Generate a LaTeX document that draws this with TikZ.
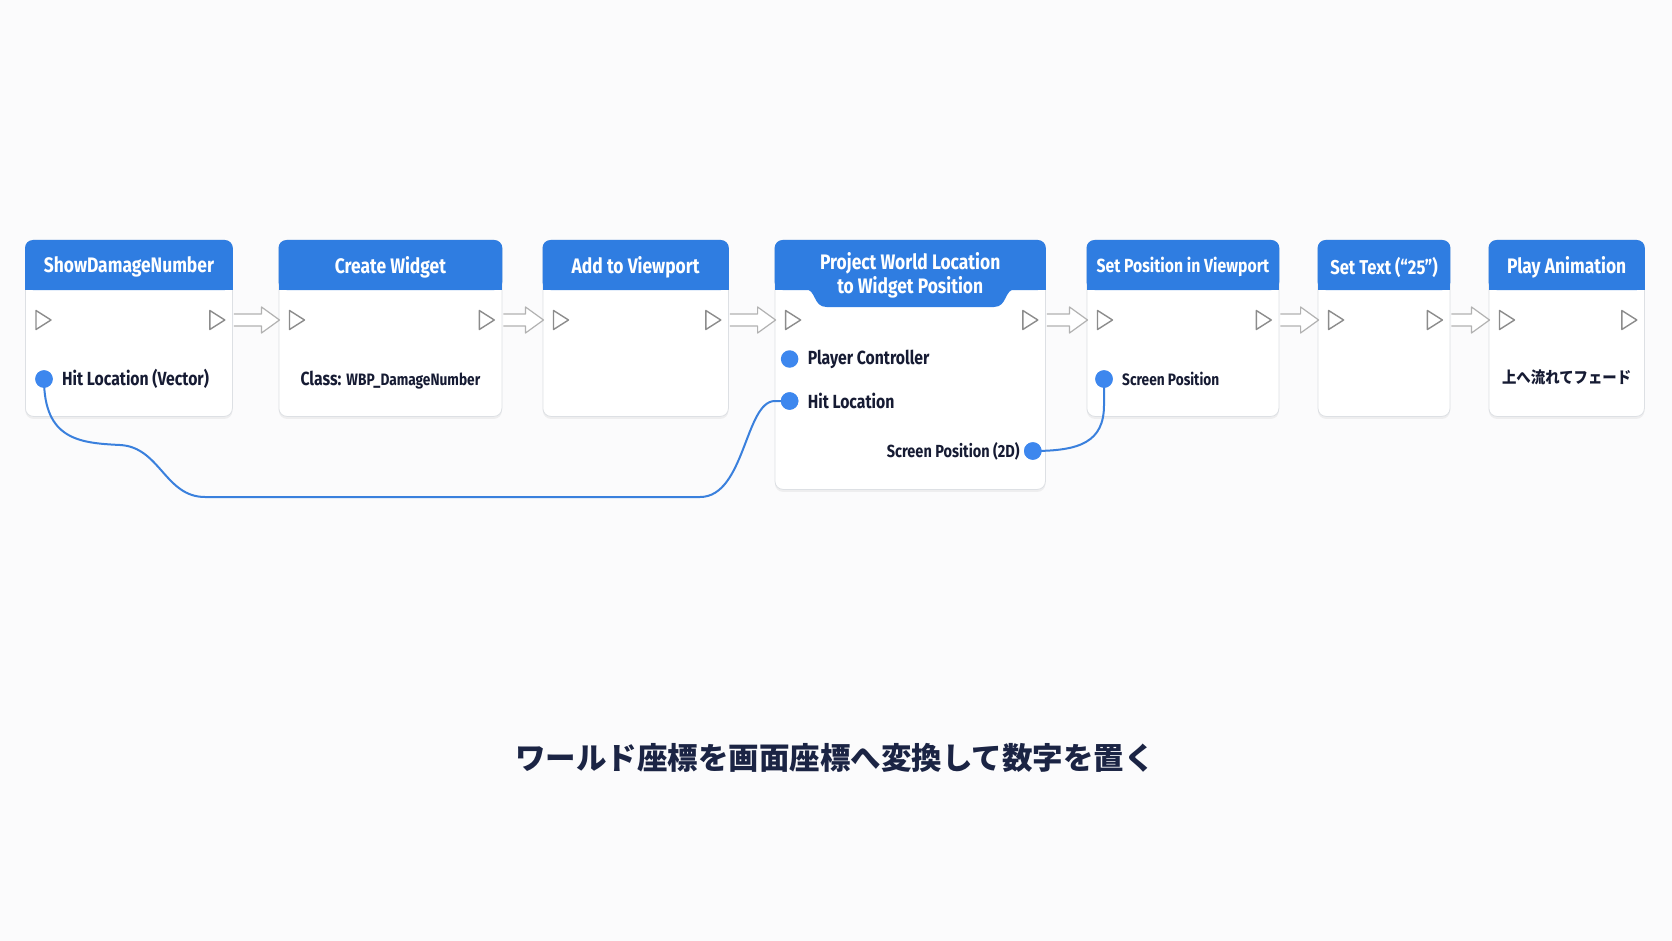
\documentclass[tikz,border=0pt]{standalone}
\usepackage{fontspec}
\setmainfont{Fira Sans}[FakeStretch=0.83]
\newfontfamily\cjk{Noto Sans CJK JP}
\newfontfamily\cjknarrow{Noto Sans CJK JP}[FakeStretch=0.9]
\usetikzlibrary{calc,shadows}
\definecolor{hdr}{HTML}{2F7DE1}
\definecolor{pinb}{HTML}{3D87EE}
\definecolor{wirec}{HTML}{3A80DD}
\definecolor{txt}{HTML}{161B33}
\definecolor{capc}{HTML}{1B2444}
\definecolor{bgc}{HTML}{FBFBFC}
\definecolor{bord}{HTML}{DDE0E4}
\definecolor{execg}{HTML}{8C8C8C}
\begin{document}
\begin{tikzpicture}[x=1pt,y=-1pt,
  bp/.style={draw=bord, line width=0.8pt, fill=white, rounded corners=8pt, anchor=north west, inner sep=0pt,
    drop shadow={opacity=0.10, shadow xshift=0pt, shadow yshift=-2.5pt}},
  ttl/.style={text=white, font=\bfseries\fontsize{21}{25}\selectfont, inner sep=0pt, align=center},
  lbl/.style={text=txt, font=\bfseries\fontsize{19}{22}\selectfont, inner sep=0pt},
  dpin/.style={circle, fill=pinb, minimum size=17.5pt, inner sep=0pt},
  wire/.style={draw=wirec, line width=2pt},
  execarr/.style={draw=black!30, fill=white, line width=1.2pt, line join=round},
  execpin/.pic={\draw[draw=execg, fill=white, line width=1.4pt, line join=round] (-7,-9.5) -- (8,0) -- (-7,9.5) -- cycle;}
]
\useasboundingbox (0,0) rectangle (1672,941);
\fill[bgc] (0,0) rectangle (1672,941);

% boxes
\node[bp, minimum width=207pt, minimum height=176pt] (n1) at (25,240) {};
\node[bp, minimum width=223pt, minimum height=176pt] (n2) at (278.5,240) {};
\node[bp, minimum width=185.5pt, minimum height=176pt] (n3) at (542.5,240) {};
\node[bp, minimum width=270.4pt, minimum height=249pt] (n4) at (774.6,240) {};
\node[bp, minimum width=192pt, minimum height=176pt] (n5) at (1086.5,240) {};
\node[bp, minimum width=132pt, minimum height=176pt] (n6) at (1317.6,240) {};
\node[bp, minimum width=155.5pt, minimum height=176pt] (n7) at (1488.5,240) {};

% headers
\foreach \n in {n1,n2,n3,n4,n5,n6,n7}{
  \fill[hdr, rounded corners=8pt] (\n.north west) rectangle ($(\n.north east)+(0,50)$);
  \fill[hdr] ($(\n.north west)+(0,25)$) rectangle ($(\n.north east)+(0,50)$);
}
% bump under header of n4
\fill[hdr] ($(n4.north west)+(30,49)$) .. controls ($(n4.north west)+(42,49)$) and ($(n4.north west)+(38,67)$) .. ($(n4.north west)+(52,67)$)
  -- ($(n4.north east)+(-52,67)$) .. controls ($(n4.north east)+(-38,67)$) and ($(n4.north east)+(-42,49)$) .. ($(n4.north east)+(-30,49)$) -- cycle;

% titles
\node[ttl] (t1) at ($(n1.north)+(0,27)$) {ShowDamageNumber};
\node[ttl] (t2) at ($(n2.north)+(0,27)$) {Create Widget};
\node[ttl] (t3) at ($(n3.north)+(0,27)$) {Add to Viewport};
\node[ttl] (t4a) at ($(n4.north)+(0,23)$) {Project World Location};
\node[ttl] (t4b) at ($(n4.north)+(0,47)$) {to Widget Position};
\node[ttl, font=\bfseries\fontsize{19}{23}\selectfont] (t5) at ($(n5.north)+(0,27)$) {Set Position in Viewport};
\node[ttl, font=\bfseries\fontsize{20}{24}\selectfont] (t6) at ($(n6.north)+(0,27)$) {Set Text (“25”)};
\node[ttl] (t7) at ($(n7.north)+(0,27)$) {Play Animation};

% exec pins
\foreach \n in {n1,n2,n3,n4,n5,n6,n7}{
  \coordinate (\n i) at ($(\n.north west)+(18,80)$);
  \coordinate (\n o) at ($(\n.north east)+(-16,80)$);
  \pic at (\n i) {execpin};
  \pic at (\n o) {execpin};
}

% exec arrows
\foreach \a/\b in {n1/n2,n2/n3,n3/n4,n4/n5,n5/n6,n6/n7}{
  \filldraw[execarr] ($(\a.east |- \a o)+(1,-6)$) -- ($(\b.west |- \b i)+(-17,-6)$) -- ($(\b.west |- \b i)+(-17,-13)$)
    -- ($(\b.west |- \b i)+(1,0)$) -- ($(\b.west |- \b i)+(-17,13)$) -- ($(\b.west |- \b i)+(-17,6)$) -- ($(\a.east |- \a o)+(1,6)$);
}

% data pins
\node[dpin] (d1) at ($(n1.north west)+(19,139)$) {};
\node[dpin] (d4a) at ($(n4.north west)+(15,119)$) {};
\node[dpin] (d4b) at ($(n4.north west)+(15,161)$) {};
\node[dpin] (d4o) at ($(n4.north east)+(-13,211)$) {};
\node[dpin] (d5) at ($(n5.north west)+(17.5,139)$) {};

% wires
\coordinate (w1) at (120,445);
\coordinate (w2) at (205,497);
\coordinate (w3) at (700,497);
\coordinate (w4) at (775,401);
\draw[wire] (d1.center) .. controls (44,440) and (80,443) .. (w1) .. controls (160,447) and (165,497) .. (w2) -- (w3)
  .. controls (745,497) and (745,401) .. (w4) -- (d4b.center);
\coordinate (w5) at (1104,405);
\draw[wire] (d4o.center) .. controls (1080,451) and (1104,442) .. (w5) -- (d5.center);
\node[dpin] at (d1) {};
\node[dpin] at (d4b) {};
\node[dpin] at (d4o) {};
\node[dpin] at (d5) {};

% labels
\node[lbl, anchor=west] (l1) at ($(d1.center)+(18,0)$) {Hit Location (Vector)};
\node[lbl] (l2) at ($(n2.north)+(0,140)$) {Class: {\fontsize{16.5}{18}\selectfont WBP\_DamageNumber}};
\node[lbl, anchor=west] (l4a) at ($(d4a.center)+(18,0)$) {Player Controller};
\node[lbl, anchor=west] (l4b) at ($(d4b.center)+(18,0)$) {Hit Location};
\node[lbl, anchor=east, font=\bfseries\fontsize{17.5}{21}\selectfont] (l4o) at ($(d4o.center)+(-13,0)$) {Screen Position (2D)};
\node[lbl, anchor=west, font=\bfseries\fontsize{16.5}{20}\selectfont] (l5) at ($(d5.center)+(18,0)$) {Screen Position};
\node[lbl, font=\cjknarrow\bfseries\fontsize{16}{20}\selectfont] (l7) at ($(n7.north)+(0,137)$) {上へ流れてフェード};

% caption
\node[text=capc, font=\cjk\bfseries\fontsize{30.5}{36}\selectfont, inner sep=0pt] (cap) at (835,758) {ワールド座標を画面座標へ変換して数字を置く};
\end{tikzpicture}
\end{document}
